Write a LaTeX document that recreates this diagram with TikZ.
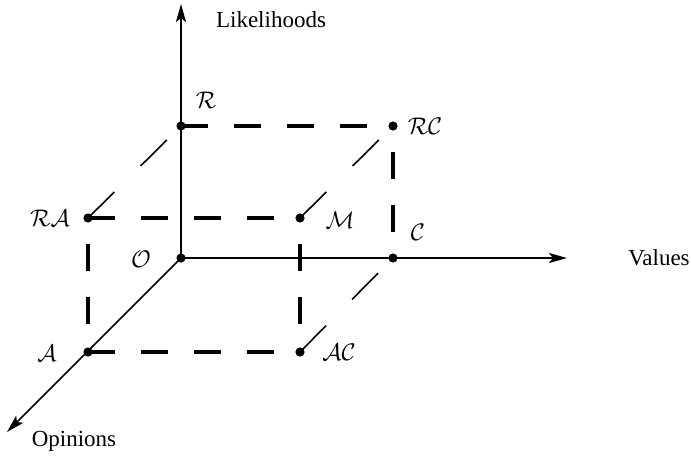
\documentclass[tikz,border=0pt]{standalone}
\usepackage{fontspec}
\setmainfont{Liberation Serif}
\usetikzlibrary{arrows.meta}
\tikzset{
  axis/.style={line width=1.1pt,-{Stealth[length=9pt,width=5pt,inset=2pt]}},
  depthaxis/.style={line width=0.75pt,-{Stealth[length=9pt,width=5pt,inset=2pt]}},
  edgedash/.style={line width=1.6pt,dash pattern=on 13.5pt off 13pt},
  vertdash/.style={edgedash,dash phase=13.5pt},
  depthdash/.style={line width=0.8pt,dash pattern=on 18.5pt off 18.5pt},
  lbl/.style={inner sep=0pt,font=\fontsize{11.5}{13.8}\selectfont}
}

\begin{document}
\begin{tikzpicture}[x=0.5pt,y=-0.5pt]
\useasboundingbox (0,0) rectangle (691,457);
% corners of the box
\coordinate (O) at (181,258);
\coordinate (R) at (181,126);
\coordinate (RC) at (393,126);
\coordinate (C) at (393,258);
\coordinate (RA) at (88,218);
\coordinate (M) at (300,218);
\coordinate (A) at (88,352);
\coordinate (AC) at (300,352);
% axis ends
\coordinate (ytip) at (181,4);
\coordinate (xtip) at (567,258);
\coordinate (ztip) at (7,432);

% dashed edges
\draw[edgedash] (R) -- (RC);
\draw[edgedash] (RA) -- (M);
\draw[edgedash] (A) -- (AC);
\draw[vertdash] (RC) -- (C);
\draw[vertdash] (RA) -- (A);
\draw[vertdash] (M) -- (AC);
\draw[depthdash] (RA) -- (R);
\draw[depthdash] (M) -- (RC);
\draw[depthdash] (AC) -- (C);

% axes
\draw[axis] (O) -- (ytip);
\draw[axis] (O) -- (xtip);
\draw[depthaxis] (O) -- (ztip);

\foreach \p in {O,R,RC,C,RA,M,A,AC} {
  \fill (\p) circle (2.3pt);
}

\node[lbl] (likely) at (271,20) {Likelihoods};
\node[lbl] (values) at (659,258) {Values};
\node[lbl] (opin) at (74,441) {Opinions};
\node[lbl] (lO) at (141,259) {$\mathcal{O}$};
\node[lbl] (lR) at (206,100) {$\mathcal{R}$};
\node[lbl] (lRC) at (425,126) {$\mathcal{RC}$};
\node[lbl] (lC) at (418,232) {$\mathcal{C}$};
\node[lbl] (lRA) at (50,218) {$\mathcal{RA}$};
\node[lbl] (lM) at (340,220) {$\mathcal{M}$};
\node[lbl] (lA) at (47,353) {$\mathcal{A}$};
\node[lbl] (lAC) at (339,352) {$\mathcal{AC}$};
\end{tikzpicture}
\end{document}
